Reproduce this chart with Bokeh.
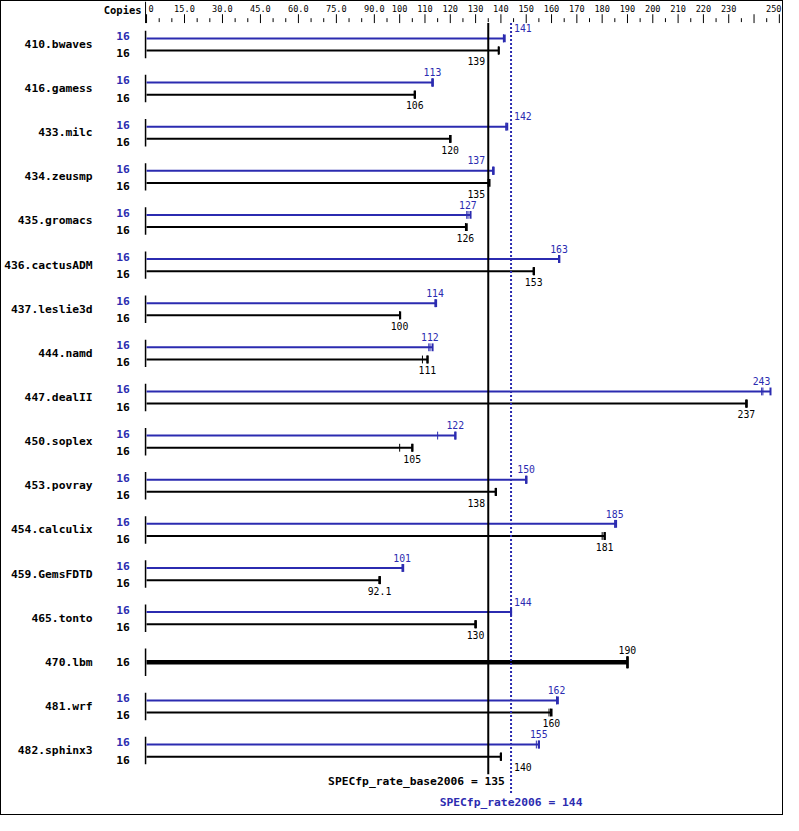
import numpy as np
from bokeh.plotting import figure
from bokeh.models import Range1d, ColumnDataSource
from bokeh.core.properties import value
from bokeh.embed import file_html
from bokeh.resources import INLINE

# ---------------- data ----------------
benchmarks = ["410.bwaves", "416.gamess", "433.milc", "434.zeusmp", "435.gromacs",
              "436.cactusADM", "437.leslie3d", "444.namd", "447.dealII", "450.soplex",
              "453.povray", "454.calculix", "459.GemsFDTD", "465.tonto", "470.lbm",
              "481.wrf", "482.sphinx3"]
copies_base = [16, 16, 16, 16, 16, 16, 16, 16, 16, 16, 16, 16, 16, 16, 16, 16, 16]
copies_peak = [16, 16, 16, 16, 16, 16, 16, 16, 16, 16, 16, 16, 16, 16, None, 16, 16]
base_ratio = [139, 106, 120, 135, 126, 153, 100, 111, 237, 105, 138, 181, 92.1, 130, 190, 160, 140]
peak_ratio = [141, 113, 142, 137, 127, 163, 114, 112, 243, 122, 150, 185, 101, 144, None, 162, 155]
base_runs = [[139, 139, 139.2], [106, 106, 106], [120, 120, 120], [135, 135, 135.5],
             [126, 126, 126.5], [153, 153, 153], [100, 100, 100.2], [109, 111, 111],
             [237, 237, 237], [100, 105, 105], [138, 138, 138], [180, 181, 181],
             [92.1, 92.1, 92.1], [130, 130, 130], [190, 190, 190], [159, 159.6, 160],
             [140, 140, 140]]
peak_runs = [[141, 141, 141.5], [113, 113, 113], [142, 142, 142.5], [137, 137, 137],
             [126.5, 127, 128], [163, 163, 163], [114, 114, 114.4], [111.5, 112, 113],
             [243, 243.5, 246.5], [115, 122, 122], [150, 150, 150], [185, 185, 185.5],
             [101, 101, 101.4], [144, 144, 144], None, [162, 162, 162.5], [154, 155, 155]]
base_overall = 135
peak_overall = 144
tick_values = [0, 15, 30, 45, 60, 75, 90, 100, 110, 120, 130, 140, 150, 160, 170,
               180, 190, 200, 210, 220, 230, 240, 250]
tick_labels = ["0", "15.0", "30.0", "45.0", "60.0", "75.0", "90.0", "100", "110", "120",
               "130", "140", "150", "160", "170", "180", "190", "200", "210", "220",
               "230", "", "250"]
minor_step = 5
axis_title = "Copies"

# ---------------- layout (reference pixel geometry) ----------------
K = 2.583          # reference px per unit
X0 = 148.0         # reference px of value 0
W, H = 783, 815
BLUE = "#2b2bb0"
FONT = "DejaVu Sans Mono"

def px(v):
    return X0 + v * K

def dx(p):
    return (p - X0) / K

p = figure(width=W, height=H, x_range=Range1d(dx(0), dx(799)), y_range=Range1d(831, 0),
           x_axis_type=None, y_axis_type=None, toolbar_location=None, output_backend="svg",
           min_border_left=0, min_border_right=0, min_border_bottom=0, min_border_top=0,
           outline_line_color=None, background_fill_color="white", border_fill_color="white",
           styles={"border": "1px solid black"})

# ---- top scale: ticks and labels from the tick arrays ----
minor = [m for m in range(minor_step, tick_values[-1], minor_step) if m not in tick_values]
p.segment(x0=tick_values, x1=tick_values, y0=[13] * len(tick_values), y1=[22] * len(tick_values),
          line_color="black", line_width=1)
p.segment(x0=minor, x1=minor, y0=[17] * len(minor), y1=[21] * len(minor),
          line_color="black", line_width=1)
TCW = 5.3
lab_x, lab_t = [], []
for t, l in zip(tick_values, tick_labels):
    if not l:
        continue
    w = len(l) * TCW
    left = px(t) - w / 2
    left = max(left, 150)
    left = min(left, 796 - w)
    lab_x.append(dx(left)); lab_t.append(l)
p.text(x=lab_x, y=[7.5] * len(lab_x), text=lab_t,
       text_color="black", text_font=value(FONT), text_font_size="8.6px",
       text_align="left", text_baseline="middle")
p.text(x=[dx(143)], y=[9], text=[axis_title], text_color="black", text_font=value(FONT),
       text_font_style="bold", text_font_size="10.5px", text_align="right", text_baseline="middle")
p.segment(x0=[dx(147)], x1=[dx(147)], y0=[0], y1=[22], line_color="black", line_width=1)

n = len(benchmarks)
centers = 43.8 + 45.0 * np.arange(n)

lines_px = [px(base_overall), px(peak_overall)]
CW = 6.1

def place(v, text):
    w = len(text) * CW
    c = px(v)
    def ok(s):
        return all(not (s - 2 <= L <= s + w + 2) for L in lines_px)
    cands = [c - w / 2]
    for L in sorted(lines_px, key=lambda L: abs(L - c)):
        cands += sorted([L + 3, L - 3 - w], key=lambda s: abs(s + w / 2 - c))
    for s in cands:
        if ok(s):
            return dx(min(s, 796 - w))
    return dx(c - w / 2)

def fmt(v):
    return f"{v:g}"

bars = {"blue": dict(x0=[], x1=[], y=[], w=[]), "black": dict(x0=[], x1=[], y=[], w=[])}
caps = {"blue": dict(x=[], y0=[], y1=[], w=[]), "black": dict(x=[], y0=[], y1=[], w=[])}
vlab = {"blue": dict(x=[], y=[], t=[]), "black": dict(x=[], y=[], t=[])}
clab = {"blue": dict(x=[], y=[], t=[]), "black": dict(x=[], y=[], t=[])}
axis_seg = dict(x=[], y0=[], y1=[])

for i, name in enumerate(benchmarks):
    c = centers[i]
    axis_seg["x"].append(dx(147)); axis_seg["y0"].append(c - 14); axis_seg["y1"].append(c + 14)
    single = peak_ratio[i] is None
    series = []
    if not single:
        series.append(("blue", peak_ratio[i], peak_runs[i], copies_peak[i], c - 6.2, c - 8.3, c - 6.2 - 10.5, 2))
        series.append(("black", base_ratio[i], base_runs[i], copies_base[i], c + 6.2, c + 9.2, c + 6.2 + 11, 2))
    else:
        series.append(("black", base_ratio[i], base_runs[i], copies_base[i], c, c, c - 12.5, 4.5))
    for col, val, runs, cp, yb, yc, yl, lw in series:
        end = max(runs)
        bars[col]["x0"].append(0); bars[col]["x1"].append(end); bars[col]["y"].append(yb); bars[col]["w"].append(lw)
        hh = 4 if lw < 3 else 6
        for r in runs:
            caps[col]["x"].append(r); caps[col]["y0"].append(yb - hh); caps[col]["y1"].append(yb + hh)
            caps[col]["w"].append(2 if r == end else 1)
        t = fmt(val)
        vlab[col]["x"].append(place(val, t)); vlab[col]["y"].append(yl); vlab[col]["t"].append(t)
        clab[col]["x"].append(dx(131)); clab[col]["y"].append(yc); clab[col]["t"].append(str(cp))

p.segment(x0="x", x1="x", y0="y0", y1="y1", source=ColumnDataSource(axis_seg),
          line_color="black", line_width=1.5)

for col, color in (("blue", BLUE), ("black", "black")):
    p.segment(x0="x0", x1="x1", y0="y", y1="y", line_width="w", line_color=color,
              source=ColumnDataSource(bars[col]))
    p.segment(x0="x", x1="x", y0="y0", y1="y1", line_width="w", line_color=color,
              source=ColumnDataSource(caps[col]))
    p.text(x="x", y="y", text="t", source=ColumnDataSource(vlab[col]), text_color=color,
           text_font=value(FONT), text_font_size="9.8px", text_align="left", text_baseline="middle")
    p.text(x="x", y="y", text="t", source=ColumnDataSource(clab[col]), text_color=color,
           text_font=value(FONT), text_font_style="bold", text_font_size="11.3px",
           text_align="right", text_baseline="middle")

p.text(x=[dx(93)] * n, y=list(centers), text=benchmarks, text_color="black",
       text_font=value(FONT), text_font_style="bold", text_font_size="11.3px",
       text_align="right", text_baseline="middle")

# overall lines
p.segment(x0=[base_overall], x1=[base_overall], y0=[22], y1=[788], line_color="black", line_width=2)
p.segment(x0=[peak_overall], x1=[peak_overall], y0=[22], y1=[808], line_color=BLUE, line_width=2,
          line_dash="2 2")
p.text(x=[base_overall + 17 / K], y=[795], text=[f"SPECfp_rate_base2006 = {base_overall}"],
       text_color="black", text_font=value(FONT), text_font_style="bold", text_font_size="11.3px",
       text_align="right", text_baseline="middle")
p.text(x=[peak_overall], y=[817], text=[f"SPECfp_rate2006 = {peak_overall}"],
       text_color=BLUE, text_font=value(FONT), text_font_style="bold", text_font_size="11.3px",
       text_align="center", text_baseline="middle")

open("out.html", "w").write(file_html(p, INLINE))
